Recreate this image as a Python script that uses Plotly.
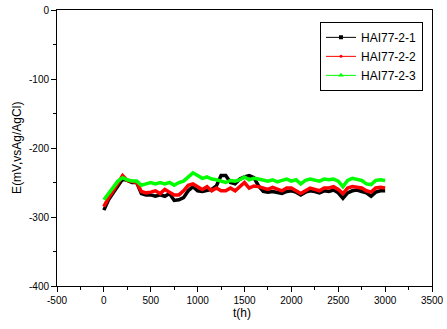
import plotly.graph_objects as go

t_hours = list(range(0, 3001, 50))

e_hai77_2_1 = [-290, -275, -265, -255, -245, -247, -250, -250, -266, -268,
               -268, -270, -268, -270, -266, -276, -275, -272, -262, -256,
               -262, -263, -262, -260, -255, -240, -240, -250, -252, -245,
               -242, -240, -243, -255, -263, -264, -263, -265, -266, -263,
               -262, -264, -268, -264, -262, -263, -265, -262, -263, -261,
               -265, -273, -265, -262, -261, -263, -265, -270, -264, -262,
               -262]
e_hai77_2_2 = [-285, -272, -262, -250, -240, -247, -248, -250, -263, -265,
               -264, -262, -266, -260, -264, -268, -268, -262, -254, -252,
               -256, -260, -256, -262, -258, -262, -262, -258, -262, -256,
               -250, -258, -255, -256, -258, -260, -257, -260, -262, -258,
               -258, -262, -266, -262, -258, -260, -262, -258, -258, -256,
               -260, -266, -258, -256, -257, -258, -262, -264, -258, -257,
               -258]
e_hai77_2_3 = [-275, -265, -257, -248, -243, -246, -248, -248, -254, -252,
               -250, -252, -250, -252, -250, -254, -250, -248, -242, -236,
               -240, -244, -242, -245, -246, -248, -250, -247, -248, -246,
               -242, -246, -244, -245, -247, -248, -246, -249, -247, -245,
               -248, -246, -252, -247, -245, -247, -248, -245, -246, -245,
               -248, -256, -247, -244, -245, -247, -252, -253, -247, -246,
               -247]

series_names = ["HAI77-2-1", "HAI77-2-2", "HAI77-2-3"]
x_tick_vals = [-500, 0, 500, 1000, 1500, 2000, 2500, 3000, 3500]
x_tick_text = ["-500", "0", "500", "1000", "1500", "2000", "2500", "3000", "3500"]
y_tick_vals = [-400, -300, -200, -100, 0]
y_tick_text = ["-400", "-300", "-200", "-100", "0"]

colors = ["#000000", "#ff0000", "#00ff00"]
symbols = ["square", "circle", "triangle-up"]
sizes = [4, 3, 5]
FONT = "Liberation Sans, Arial"

fig = go.Figure()
for name, vals, c in zip(series_names, [e_hai77_2_1, e_hai77_2_2, e_hai77_2_3], colors):
    fig.add_trace(go.Scatter(x=t_hours, y=vals, name=name, mode="lines",
                             line=dict(color=c, width=3.5), showlegend=False,
                             hoverinfo="skip"))
for name, c, s, sz in zip(series_names, colors, symbols, sizes):
    fig.add_trace(go.Scatter(x=[None], y=[None], name=name, mode="lines+markers",
                             line=dict(color=c, width=1),
                             marker=dict(color=c, symbol=s, size=sz)))

axis_common = dict(showline=True, linecolor="black", linewidth=1, mirror=True,
                   ticks="outside", ticklen=5, tickcolor="black", showgrid=False,
                   zeroline=False, automargin=False,
                   tickfont=dict(family=FONT, size=10, color="black"))

fig.update_xaxes(range=[-500, 3500], tickvals=x_tick_vals, ticktext=x_tick_text,
                 minor=dict(ticks="outside", ticklen=3, dtick=250, tick0=0, tickcolor="black"),
                 **axis_common)
fig.update_yaxes(range=[-400, 0], tickvals=y_tick_vals, ticktext=y_tick_text,
                 minor=dict(ticks="outside", ticklen=3, dtick=50, tick0=0, tickcolor="black"),
                 **axis_common)

fig.add_annotation(text="t(h)", xref="paper", yref="paper", x=0.493, y=-0.097,
                   xanchor="center", yanchor="middle", showarrow=False,
                   font=dict(family=FONT, size=12, color="black"))
fig.add_annotation(text="E(mV,vsAg/AgCl)", xref="paper", yref="paper", x=-0.107, y=0.5,
                   xanchor="center", yanchor="middle", showarrow=False, textangle=-90,
                   font=dict(family=FONT, size=12, color="black"))

fig.update_layout(width=447, height=329, margin=dict(l=57, r=15, t=10, b=43),
                  plot_bgcolor="white", paper_bgcolor="white",
                  legend=dict(x=0.976, y=0.957, xanchor="right", yanchor="top",
                              bordercolor="black", borderwidth=1, bgcolor="white",
                              font=dict(family=FONT, size=12, color="black"),
                              tracegroupgap=0, itemwidth=30),
                  showlegend=True)

fig.write_html("out.html", config={"displayModeBar": False},
               post_script="document.body.style.margin='0';document.body.style.overflow='hidden';")
